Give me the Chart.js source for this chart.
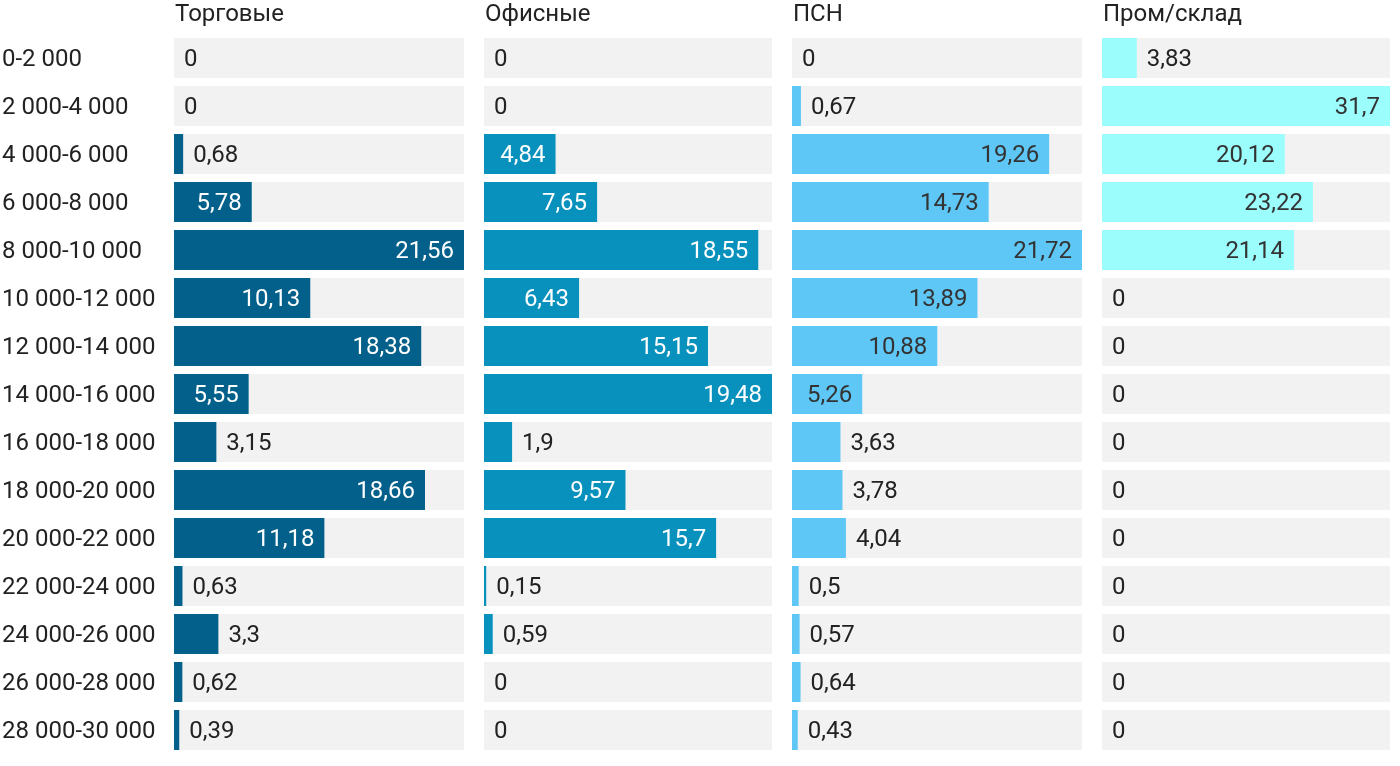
<!DOCTYPE html>
<html>
<head>
<meta charset="utf-8">
<script src="https://cdn.jsdelivr.net/npm/chart.js@4"></script>
<style>
	html, body { margin:0; padding:0; background:#fff; overflow:hidden; }
	#wrap { position:relative; width:1400px; height:766px; }
	#wrap canvas { position:absolute; top:0; }
</style>
</head>
<body>
<div id="wrap">
	<canvas id="c1" width="464" height="766" style="left:0px;width:464px;height:766px"></canvas>
	<canvas id="c2" width="288" height="766" style="left:484px;width:288px;height:766px"></canvas>
	<canvas id="c3" width="290" height="766" style="left:792px;width:290px;height:766px"></canvas>
	<canvas id="c4" width="288" height="766" style="left:1102px;width:288px;height:766px"></canvas>
</div>
<script>
const categories = ['0-2 000','2 000-4 000','4 000-6 000','6 000-8 000','8 000-10 000','10 000-12 000','12 000-14 000','14 000-16 000','16 000-18 000','18 000-20 000','20 000-22 000','22 000-24 000','24 000-26 000','26 000-28 000','28 000-30 000'];
const panelTitles = ['Торговые','Офисные','ПСН','Пром/склад'];
const trade = [0, 0, 0.68, 5.78, 21.56, 10.13, 18.38, 5.55, 3.15, 18.66, 11.18, 0.63, 3.3, 0.62, 0.39];
const office = [0, 0, 4.84, 7.65, 18.55, 6.43, 15.15, 19.48, 1.9, 9.57, 15.7, 0.15, 0.59, 0, 0];
const psn = [0, 0.67, 19.26, 14.73, 21.72, 13.89, 10.88, 5.26, 3.63, 3.78, 4.04, 0.5, 0.57, 0.64, 0.43];
const industrial = [3.83, 31.7, 20.12, 23.22, 21.14, 0, 0, 0, 0, 0, 0, 0, 0, 0, 0];

const FONT = 'Roboto, "Noto Sans", sans-serif';
const FSIZE = 24;
const panels = [
	{ id:'c1', title:panelTitles[0], data:trade, color:'#02608a', inside:'#ffffff', axis:true },
	{ id:'c2', title:panelTitles[1], data:office, color:'#0891bd', inside:'#ffffff', axis:false },
	{ id:'c3', title:panelTitles[2], data:psn, color:'#5ec7f5', inside:'#333333', axis:false },
	{ id:'c4', title:panelTitles[3], data:industrial, color:'#9cfdfd', inside:'#333333', axis:false }
];

// draws panel title and value labels
const labelPlugin = {
	id:'barLabels',
	afterDatasetsDraw(chart, args, opts){
		const ctx = chart.ctx, area = chart.chartArea;
		ctx.save();
		ctx.font = FSIZE + 'px ' + FONT;
		ctx.textBaseline = 'middle';
		ctx.fillStyle = '#222';
		ctx.textAlign = 'left';
		ctx.fillText(opts.title, area.left + 1, 15);
		const meta = chart.getDatasetMeta(1);
		const vals = chart.data.datasets[1].data;
		meta.data.forEach((bar, i) => {
			const txt = String(vals[i]).replace('.', ',');
			const w = bar.x - bar.base;
			if (w >= 60) {
				ctx.textAlign = 'right';
				ctx.fillStyle = opts.inside;
				ctx.fillText(txt, bar.x - 10, bar.y + 2);
			} else {
				ctx.textAlign = 'left';
				ctx.fillStyle = '#222';
				ctx.fillText(txt, bar.x + 10, bar.y + 2);
			}
		});
		ctx.restore();
	}
};

panels.forEach(p => {
	const max = Math.max(...p.data);
	const yAxis = {
		display:p.axis,
		grid:{ display:false },
		border:{ display:false },
		ticks:{ crossAlign:'far', color:'#222', font:{ family:FONT, size:FSIZE }, padding:0, labelOffset:2 }
	};
	if (p.axis) yAxis.afterFit = scale => {
		scale.width = 172;
		scale.paddingTop = 0;
		scale.paddingBottom = 0;
	};
	new Chart(document.getElementById(p.id), {
		type:'bar',
		data:{
			labels:categories,
			datasets:[
				{ data:categories.map(() => max), backgroundColor:'#f2f2f2', order:2 },
				{ data:p.data, backgroundColor:p.color, order:1 }
			]
		},
		options:{
			indexAxis:'y',
			responsive:false,
			animation:false,
			layout:{ padding:{ top:34, bottom:12, left:p.axis ? 2 : 0, right:0 } },
			datasets:{ bar:{ grouped:false, categoryPercentage:1, barPercentage:40/48, borderWidth:0, inflateAmount:0 } },
			scales:{
				x:{ display:false, min:0, max:max },
				y:yAxis
			},
			plugins:{
				legend:{ display:false },
				tooltip:{ enabled:false },
				barLabels:{ title:p.title, inside:p.inside }
			}
		},
		plugins:[labelPlugin]
	});
});
</script>
</body>
</html>
